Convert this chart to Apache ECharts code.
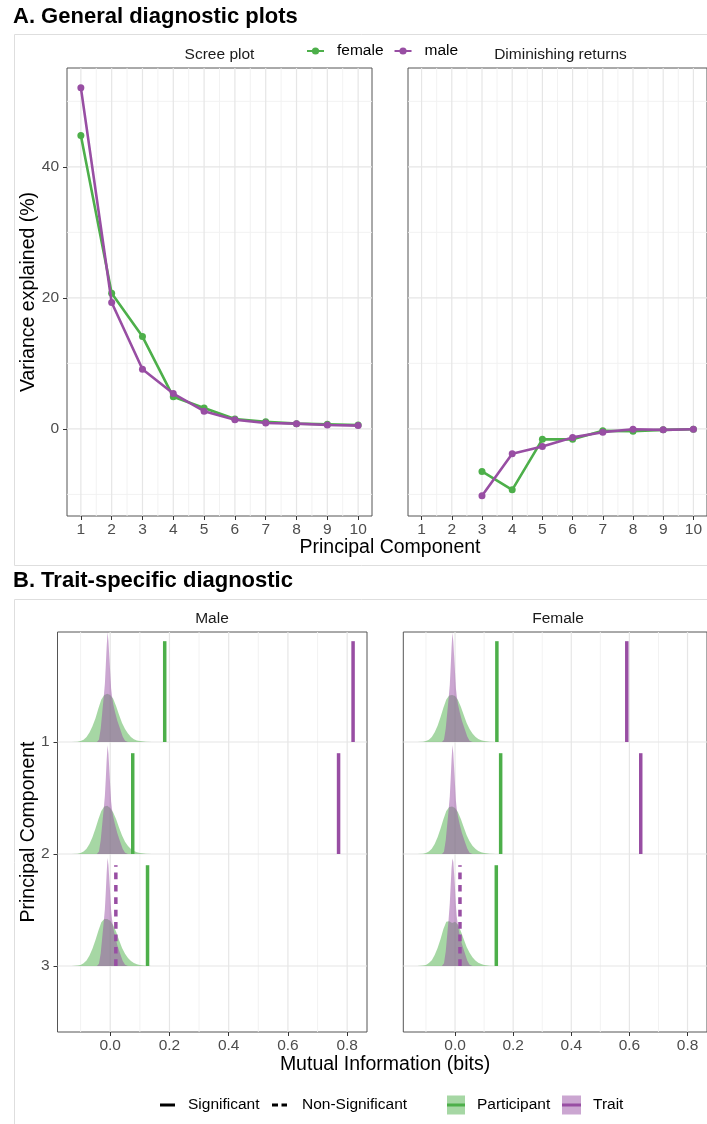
<!DOCTYPE html>
<html><head><meta charset="utf-8">
<script src="https://cdn.jsdelivr.net/npm/echarts@6/dist/echarts.min.js"></script>
<style>html,body{margin:0;padding:0;background:#fff}#c{width:707px;height:1124px}</style>
</head><body><div id="c"></div>
<script>
// ---------- Data: Panel A ----------
const pcs = [1,2,3,4,5,6,7,8,9,10];
const screeFemale = [44.8, 20.7, 14.1, 4.9, 3.2, 1.5, 1.1, 0.8, 0.7, 0.6];
const screeMale   = [52.1, 19.3, 9.1, 5.4, 2.7, 1.4, 0.9, 0.8, 0.6, 0.5];
const drPcs = [3,4,5,6,7,8,9,10];
const drFemale = [-6.5, -9.3, -1.6, -1.6, -0.3, -0.35, -0.15, -0.05];
const drMale   = [-10.2, -3.8, -2.7, -1.3, -0.5, -0.05, -0.15, -0.05];
const screeYTicks = [0, 20, 40];

// ---------- Data: Panel B ----------
const miXTicks = [0, 0.2, 0.4, 0.6, 0.8];
const pcLevels = [1, 2, 3];
const partX = [-0.13,-0.11,-0.10,-0.09,-0.08,-0.07,-0.06,-0.05,-0.04,-0.03,-0.02,-0.01,0.00,0.01,0.02,0.03,0.04,0.05,0.06,0.07,0.08,0.09,0.10,0.12,0.14];
const maleP1   = [0,0.003,0.008,0.020,0.045,0.085,0.140,0.210,0.300,0.380,0.420,0.430,0.420,0.385,0.320,0.240,0.170,0.115,0.075,0.045,0.025,0.014,0.008,0.002,0];
const maleP2   = [0,0.003,0.008,0.022,0.048,0.090,0.150,0.225,0.310,0.385,0.425,0.430,0.410,0.370,0.310,0.235,0.165,0.110,0.072,0.044,0.026,0.015,0.008,0.002,0];
const maleP3   = [0,0.004,0.010,0.025,0.050,0.095,0.155,0.230,0.315,0.390,0.420,0.420,0.405,0.365,0.305,0.230,0.160,0.110,0.072,0.045,0.027,0.016,0.009,0.003,0];
const femaleP1 = [0,0.003,0.008,0.020,0.045,0.088,0.145,0.220,0.305,0.380,0.415,0.420,0.410,0.375,0.315,0.240,0.170,0.115,0.075,0.046,0.027,0.015,0.008,0.002,0];
const femaleP2 = [0,0.003,0.009,0.022,0.047,0.090,0.150,0.225,0.310,0.385,0.420,0.425,0.410,0.372,0.312,0.238,0.168,0.114,0.074,0.046,0.027,0.015,0.008,0.002,0];
const femaleP3 = [0,0.004,0.010,0.026,0.052,0.098,0.160,0.240,0.330,0.395,0.400,0.385,0.395,0.370,0.310,0.240,0.170,0.118,0.078,0.050,0.030,0.018,0.010,0.003,0];
const traitX = [-0.045,-0.038,-0.032,-0.027,-0.022,-0.018,-0.015,-0.012,-0.009,-0.006,-0.003,0.000,0.003,0.006,0.010,0.016,0.024,0.033,0.042,0.050,0.060];
const maleT1   = [0,0.020,0.120,0.260,0.400,0.520,0.680,0.850,0.980,0.900,0.760,0.620,0.480,0.410,0.340,0.270,0.190,0.120,0.050,0.012,0];
const maleT2   = [0,0.022,0.125,0.265,0.400,0.520,0.670,0.840,0.970,0.895,0.750,0.610,0.470,0.400,0.335,0.265,0.185,0.115,0.048,0.012,0];
const maleT3   = [0,0.020,0.115,0.255,0.390,0.510,0.660,0.830,0.965,0.900,0.770,0.640,0.500,0.420,0.345,0.270,0.185,0.115,0.048,0.012,0];
const femaleT1 = [0,0.020,0.120,0.255,0.390,0.510,0.670,0.840,0.975,0.900,0.760,0.620,0.480,0.410,0.340,0.268,0.188,0.118,0.050,0.012,0];
const femaleT2 = [0,0.021,0.122,0.260,0.395,0.515,0.670,0.840,0.970,0.900,0.760,0.615,0.475,0.405,0.338,0.266,0.186,0.116,0.049,0.012,0];
const femaleT3 = [0,0.025,0.130,0.275,0.420,0.560,0.720,0.870,0.960,0.930,0.820,0.690,0.540,0.440,0.360,0.280,0.195,0.120,0.050,0.012,0];
const maleObsP   = [0.184, 0.076, 0.126];
const maleObsT   = [0.820, 0.771, 0.019];
const maleSigT   = [1, 1, 0];
const femaleObsP = [0.144, 0.157, 0.142];
const femaleObsT = [0.591, 0.639, 0.017];
const femaleSigT = [1, 1, 0];

// ---------- Styling ----------
const GREEN = '#4DAF4A', PURPLE = '#984EA3';
const GREEN_A = 'rgba(77,175,74,0.5)', PURPLE_A = 'rgba(152,78,163,0.5)';
const FONT = 'Liberation Sans, Arial, Helvetica, sans-serif';
const TICK = 15.5, TITLE = 19.5;

const topX = [0.55, 10.45], topY = [-13.3, 55.1];
const botX = [-0.178, 0.867], botY = [0.018, 3.589];

function gridSeries(idx, xr, yr, vMaj, vMin, hMaj, hMin) {
  const data = [];
  vMin.forEach(v => data.push([0, v, 0]));
  hMin.forEach(v => data.push([1, v, 0]));
  vMaj.forEach(v => data.push([0, v, 1]));
  hMaj.forEach(v => data.push([1, v, 1]));
  return {
    type: 'custom', xAxisIndex: idx, yAxisIndex: idx, silent: true, z: 1, clip: true,
    data: data,
    renderItem: (params, api) => {
      const o = api.value(0), v = api.value(1), mj = api.value(2);
      const a = o === 0 ? api.coord([v, yr[0]]) : api.coord([xr[0], v]);
      const b = o === 0 ? api.coord([v, yr[1]]) : api.coord([xr[1], v]);
      return { type: 'line', shape: {x1: a[0], y1: a[1], x2: b[0], y2: b[1]},
        style: {stroke: mj ? '#e6e6e6' : '#f0f0f0', lineWidth: mj ? 1.2 : 0.9} };
    }
  };
}

function densSeries(idx, dens) {
  return {
    type: 'custom', xAxisIndex: idx, yAxisIndex: idx, silent: true, z: 3, clip: true,
    data: dens.map((d, i) => [i]),
    renderItem: (params, api) => {
      const d = dens[params.dataIndex];
      const pts = [api.coord([d.xs[0], d.k])];
      d.xs.forEach((x, i) => pts.push(api.coord([x, d.k - d.hs[i]])));
      pts.push(api.coord([d.xs[d.xs.length - 1], d.k]));
      return { type: 'polygon', shape: {points: pts}, style: {fill: d.fill, stroke: null} };
    }
  };
}

function obsSeries(idx, obsP, obsT, sigT) {
  const data = [];
  pcLevels.forEach((k, i) => { data.push([obsP[i], k, 1, 0]); data.push([obsT[i], k, sigT[i], 1]); });
  return {
    type: 'custom', xAxisIndex: idx, yAxisIndex: idx, silent: true, z: 4, clip: true,
    data: data,
    renderItem: (params, api) => {
      const v = api.value(0), k = api.value(1), s = api.value(2), t = api.value(3);
      const a = api.coord([v, k]), b = api.coord([v, k - 0.9]);
      return { type: 'line', shape: {x1: a[0], y1: a[1], x2: b[0], y2: b[1]},
        style: {stroke: t === 0 ? GREEN : PURPLE, lineWidth: 3.5, lineCap: 'butt',
                lineDash: s ? null : [6.7, 5.7]} };
    }
  };
}

function mkDens(P, T) {
  const out = [];
  pcLevels.forEach((k, i) => {
    out.push({k: k, xs: partX, hs: P[i], fill: GREEN_A});
    out.push({k: k, xs: traitX, hs: T[i], fill: PURPLE_A});
  });
  return out;
}
const maleDens = mkDens([maleP1, maleP2, maleP3], [maleT1, maleT2, maleT3]);
const femaleDens = mkDens([femaleP1, femaleP2, femaleP3], [femaleT1, femaleT2, femaleT3]);

const gridBase = {show: true, borderColor: '#555', borderWidth: 1, backgroundColor: '#fff', containLabel: false};
const tickStyle = {lineStyle: {color: '#333', width: 1}, length: 4};
const lblStyle = {color: '#4d4d4d', fontSize: TICK, fontFamily: FONT};
const noLine = {show: false, onZero: false};

const halfPcs = [1.5,2.5,3.5,4.5,5.5,6.5,7.5,8.5,9.5];

const option = {
  animation: false,
  textStyle: {fontFamily: FONT},
  grid: [
    Object.assign({left: 67, top: 68, width: 305, height: 448}, gridBase),
    Object.assign({left: 408, top: 68, width: 305, height: 448}, gridBase),
    Object.assign({left: 57.5, top: 632, width: 309.5, height: 400}, gridBase),
    Object.assign({left: 403.3, top: 632, width: 309.5, height: 400}, gridBase)
  ],
  xAxis: [
    {gridIndex: 0, type: 'value', position: 'bottom', min: topX[0], max: topX[1], axisLine: noLine, splitLine: {show: false},
     axisTick: Object.assign({show: true, customValues: pcs}, tickStyle),
     axisLabel: Object.assign({customValues: pcs, margin: 6}, lblStyle)},
    {gridIndex: 1, type: 'value', position: 'bottom', min: topX[0], max: topX[1], axisLine: noLine, splitLine: {show: false},
     axisTick: Object.assign({show: true, customValues: pcs}, tickStyle),
     axisLabel: Object.assign({customValues: pcs, margin: 6}, lblStyle)},
    {gridIndex: 2, type: 'value', position: 'bottom', min: botX[0], max: botX[1], axisLine: noLine, splitLine: {show: false},
     axisTick: Object.assign({show: true, customValues: miXTicks}, tickStyle),
     axisLabel: Object.assign({customValues: miXTicks, margin: 6, formatter: v => Number(v).toFixed(1)}, lblStyle)},
    {gridIndex: 3, type: 'value', position: 'bottom', min: botX[0], max: botX[1], axisLine: noLine, splitLine: {show: false},
     axisTick: Object.assign({show: true, customValues: miXTicks}, tickStyle),
     axisLabel: Object.assign({customValues: miXTicks, margin: 6, formatter: v => Number(v).toFixed(1)}, lblStyle)}
  ],
  yAxis: [
    {gridIndex: 0, type: 'value', position: 'left', min: topY[0], max: topY[1], axisLine: noLine, splitLine: {show: false},
     axisTick: Object.assign({show: true, customValues: screeYTicks}, tickStyle),
     axisLabel: Object.assign({customValues: screeYTicks, margin: 8}, lblStyle)},
    {gridIndex: 1, type: 'value', position: 'left', min: topY[0], max: topY[1], axisLine: noLine, splitLine: {show: false},
     axisTick: {show: false}, axisLabel: {show: false}},
    {gridIndex: 2, type: 'value', position: 'left', inverse: true, min: botY[0], max: botY[1], axisLine: noLine, splitLine: {show: false},
     axisTick: Object.assign({show: true, customValues: pcLevels}, tickStyle),
     axisLabel: Object.assign({customValues: pcLevels, margin: 8}, lblStyle)},
    {gridIndex: 3, type: 'value', position: 'left', inverse: true, min: botY[0], max: botY[1], axisLine: noLine, splitLine: {show: false},
     axisTick: {show: false}, axisLabel: {show: false}}
  ],
  legend: {
    data: ['female', 'male'], left: 301, top: 38, orient: 'horizontal',
    itemWidth: 17, itemHeight: 9, itemGap: 10,
    textStyle: {color: '#000', fontSize: TICK, fontFamily: FONT, padding: [0, 0, 0, 8]}
  },
  series: [
    gridSeries(0, topX, topY, pcs, halfPcs, screeYTicks, [-10, 10, 30, 50]),
    gridSeries(1, topX, topY, pcs, halfPcs, screeYTicks, [-10, 10, 30, 50]),
    gridSeries(2, botX, botY, miXTicks, [-0.1, 0.1, 0.3, 0.5, 0.7], pcLevels, []),
    gridSeries(3, botX, botY, miXTicks, [-0.1, 0.1, 0.3, 0.5, 0.7], pcLevels, []),
    {name: 'female', type: 'line', xAxisIndex: 0, yAxisIndex: 0, z: 5,
     data: pcs.map((p, i) => [p, screeFemale[i]]), symbol: 'circle', symbolSize: 7,
     lineStyle: {color: GREEN, width: 2.6}, itemStyle: {color: GREEN}},
    {name: 'male', type: 'line', xAxisIndex: 0, yAxisIndex: 0, z: 6,
     data: pcs.map((p, i) => [p, screeMale[i]]), symbol: 'circle', symbolSize: 7,
     lineStyle: {color: PURPLE, width: 2.6}, itemStyle: {color: PURPLE}},
    {name: 'female', type: 'line', xAxisIndex: 1, yAxisIndex: 1, z: 5,
     data: drPcs.map((p, i) => [p, drFemale[i]]), symbol: 'circle', symbolSize: 7,
     lineStyle: {color: GREEN, width: 2.6}, itemStyle: {color: GREEN}},
    {name: 'male', type: 'line', xAxisIndex: 1, yAxisIndex: 1, z: 6,
     data: drPcs.map((p, i) => [p, drMale[i]]), symbol: 'circle', symbolSize: 7,
     lineStyle: {color: PURPLE, width: 2.6}, itemStyle: {color: PURPLE}},
    densSeries(2, maleDens),
    densSeries(3, femaleDens),
    obsSeries(2, maleObsP, maleObsT, maleSigT),
    obsSeries(3, femaleObsP, femaleObsT, femaleSigT)
  ],
  graphic: [
    {type: 'rect', shape: {x: 14.5, y: 34.5, width: 720, height: 531}, style: {fill: 'transparent', stroke: '#dedede', lineWidth: 1}, silent: true},
    {type: 'rect', shape: {x: 14.5, y: 599.5, width: 720, height: 600}, style: {fill: 'transparent', stroke: '#dedede', lineWidth: 1}, silent: true},
    {type: 'text', x: 13, y: 17, style: {text: 'A. General diagnostic plots', fill: '#000', fontSize: 22, fontWeight: 'bold', fontFamily: FONT, align: 'left', verticalAlign: 'middle'}},
    {type: 'text', x: 13, y: 581, style: {text: 'B. Trait-specific diagnostic', fill: '#000', fontSize: 22, fontWeight: 'bold', fontFamily: FONT, align: 'left', verticalAlign: 'middle'}},
    {type: 'text', x: 219.5, y: 55, style: {text: 'Scree plot', fill: '#1a1a1a', fontSize: TICK, fontFamily: FONT, align: 'center', verticalAlign: 'middle'}},
    {type: 'text', x: 560.5, y: 55, style: {text: 'Diminishing returns', fill: '#1a1a1a', fontSize: TICK, fontFamily: FONT, align: 'center', verticalAlign: 'middle'}},
    {type: 'text', x: 212, y: 619, style: {text: 'Male', fill: '#1a1a1a', fontSize: TICK, fontFamily: FONT, align: 'center', verticalAlign: 'middle'}},
    {type: 'text', x: 558, y: 619, style: {text: 'Female', fill: '#1a1a1a', fontSize: TICK, fontFamily: FONT, align: 'center', verticalAlign: 'middle'}},
    {type: 'text', x: 390, y: 548, style: {text: 'Principal Component', fill: '#000', fontSize: TITLE, fontFamily: FONT, align: 'center', verticalAlign: 'middle'}},
    {type: 'text', x: 385, y: 1065, style: {text: 'Mutual Information (bits)', fill: '#000', fontSize: TITLE, fontFamily: FONT, align: 'center', verticalAlign: 'middle'}},
    {type: 'text', x: 29, y: 292, rotation: Math.PI / 2, style: {text: 'Variance explained (%)', fill: '#000', fontSize: TITLE, fontFamily: FONT, align: 'center', verticalAlign: 'middle'}},
    {type: 'text', x: 29, y: 832, rotation: Math.PI / 2, style: {text: 'Principal Component', fill: '#000', fontSize: TITLE, fontFamily: FONT, align: 'center', verticalAlign: 'middle'}},
    // bottom legend
    {type: 'line', shape: {x1: 160, y1: 1105, x2: 175, y2: 1105}, style: {stroke: '#000', lineWidth: 3}},
    {type: 'text', x: 188, y: 1105, style: {text: 'Significant', fill: '#000', fontSize: TICK, fontFamily: FONT, align: 'left', verticalAlign: 'middle'}},
    {type: 'line', shape: {x1: 272, y1: 1105, x2: 287, y2: 1105}, style: {stroke: '#000', lineWidth: 3, lineDash: [6, 3.5]}},
    {type: 'text', x: 302, y: 1105, style: {text: 'Non-Significant', fill: '#000', fontSize: TICK, fontFamily: FONT, align: 'left', verticalAlign: 'middle'}},
    {type: 'rect', shape: {x: 447, y: 1095.5, width: 18, height: 19}, style: {fill: GREEN_A}},
    {type: 'line', shape: {x1: 447, y1: 1105, x2: 465, y2: 1105}, style: {stroke: GREEN, lineWidth: 3}},
    {type: 'text', x: 477, y: 1105, style: {text: 'Participant', fill: '#000', fontSize: TICK, fontFamily: FONT, align: 'left', verticalAlign: 'middle'}},
    {type: 'rect', shape: {x: 562, y: 1095.5, width: 19, height: 19}, style: {fill: PURPLE_A}},
    {type: 'line', shape: {x1: 562, y1: 1105, x2: 581, y2: 1105}, style: {stroke: PURPLE, lineWidth: 3}},
    {type: 'text', x: 593, y: 1105, style: {text: 'Trait', fill: '#000', fontSize: TICK, fontFamily: FONT, align: 'left', verticalAlign: 'middle'}}
  ]
};

const chart = echarts.init(document.getElementById('c'), null, {renderer: 'canvas'});
chart.setOption(option);
</script>
</body></html>
